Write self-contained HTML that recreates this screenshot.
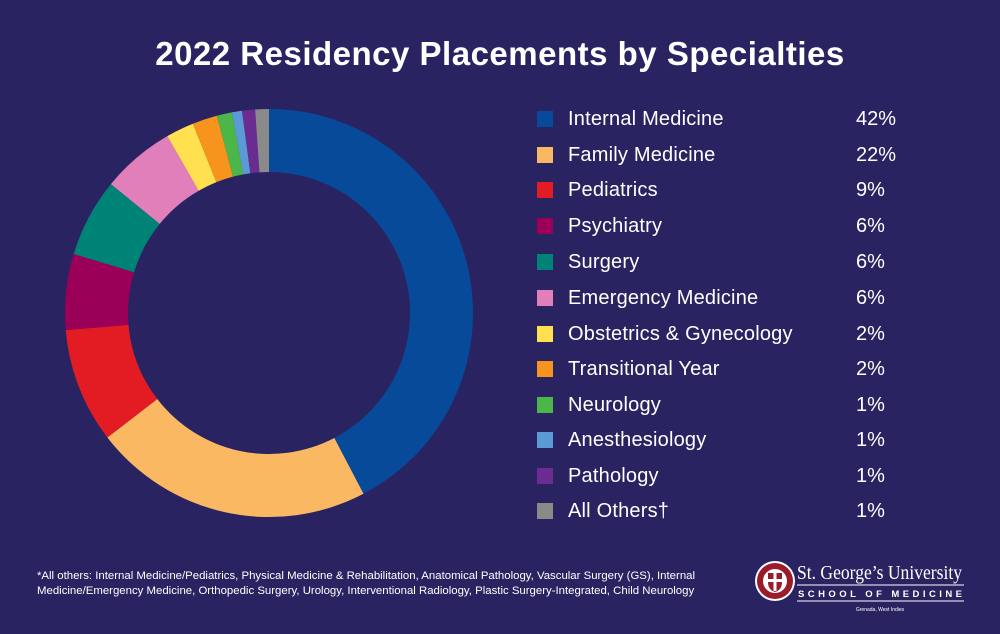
<!DOCTYPE html>
<html><head><meta charset="utf-8"><style>
html,body{margin:0;padding:0;}
body{width:1000px;height:634px;background:#2a2362;position:relative;overflow:hidden;font-family:"Liberation Sans",sans-serif;color:#fff;}
.title{position:absolute;top:35px;left:0;width:1000px;text-align:center;font-size:33px;font-weight:bold;letter-spacing:0.5px;}
.row{position:absolute;left:537px;height:20px;font-size:20px;line-height:20px;}
.sq{position:absolute;left:0;top:2px;width:16px;height:16px;}
.lab{position:absolute;left:31px;top:0;white-space:nowrap;letter-spacing:0.2px;}
.pct{position:absolute;left:319px;top:0;}
.foot{position:absolute;left:37px;top:569px;font-size:11.4px;line-height:15px;color:#fff;white-space:nowrap;}
</style></head><body>
<div class="title">2022 Residency Placements by Specialties</div>
<svg id="d" width="1000" height="634" style="position:absolute;left:0;top:0"></svg>
<div id="leg"></div>
<div class="foot">*All others: Internal Medicine/Pediatrics, Physical Medicine &amp; Rehabilitation, Anatomical Pathology, Vascular Surgery (GS), Internal<br>Medicine/Emergency Medicine, Orthopedic Surgery, Urology, Interventional Radiology, Plastic Surgery-Integrated, Child Neurology</div>
<svg width="240" height="70" style="position:absolute;left:740px;top:550px">
<circle cx="35" cy="31" r="20" fill="#fff"/>
<circle cx="35" cy="31" r="18" fill="#9a1b2a"/>
<circle cx="35" cy="31" r="12" fill="#fff"/>
<path d="M28 23 h14 v9 q0 8 -7 10 q-7 -2 -7 -10z" fill="#9a1b2a"/>
<rect x="33.5" y="23" width="3" height="18" fill="#fff"/><rect x="28" y="29" width="14" height="3" fill="#fff"/>
<text x="57" y="29" font-family="Liberation Serif,serif" font-size="20" textLength="165" lengthAdjust="spacingAndGlyphs" fill="#fff">St. George’s University</text>
<line x1="57" y1="35" x2="224" y2="35" stroke="#fff" stroke-width="1"/>
<text x="58" y="47" font-family="Liberation Sans,sans-serif" font-size="9.5" font-weight="bold" textLength="164" lengthAdjust="spacing" fill="#fff">SCHOOL OF MEDICINE</text>
<line x1="57" y1="51" x2="224" y2="51" stroke="#fff" stroke-width="1"/>
<text x="140" y="61" text-anchor="middle" font-size="5" fill="#fff" font-family="Liberation Sans,sans-serif">Grenada, West Indies</text>
</svg>
<script>
var data=[["Internal Medicine","42%","#074a9a",152.4],["Family Medicine","22%","#fbb862",80],["Pediatrics","9%","#e31c24",32.8],["Psychiatry","6%","#9b0059",21.6],["Surgery","6%","#008377",22.4],["Emergency Medicine","6%","#e17fbb",20.9],["Obstetrics &amp; Gynecology","2%","#ffe04f",8],["Transitional Year","2%","#f7941d",7.1],["Neurology","1%","#4cb748",4.3],["Anesthesiology","1%","#5b9bd5",2.9],["Pathology","1%","#6a2c91",3.7],["All Others†","1%","#8a8a8a",3.9]];
var cx=269,cy=313,R=204,r=141,a=0,s="";
function p(rad,ang){var t=(ang-90)*Math.PI/180;return (cx+rad*Math.cos(t)).toFixed(2)+" "+(cy+rad*Math.sin(t)).toFixed(2);}
var ys=[119,155,190,226,262,298,334,369,405,440,476,511],h="";
data.forEach(function(d,i){var b=a+d[3];if(i==data.length-1)b=360;var lg=(b-a)>180?1:0;
s+='<path fill="'+d[2]+'" d="M'+p(R,a)+' A'+R+' '+R+' 0 '+lg+' 1 '+p(R,b)+' L'+p(r,b)+' A'+r+' '+r+' 0 '+lg+' 0 '+p(r,a)+'Z"/>';a=b;
h+='<div class="row" style="top:'+(ys[i]-10)+'px"><div class="sq" style="background:'+d[2]+'"></div><div class="lab">'+d[0]+'</div><div class="pct">'+d[1]+'</div></div>';});
document.getElementById('d').innerHTML=s;document.getElementById('leg').innerHTML=h;
</script>
</body></html>
